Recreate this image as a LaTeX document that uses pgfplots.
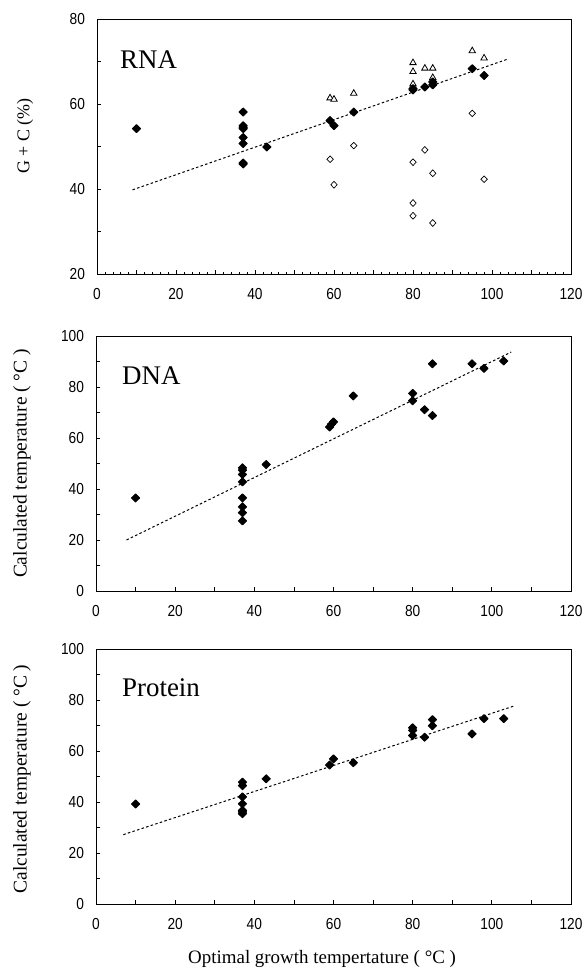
\documentclass[border=0pt]{standalone}
\usepackage{fontspec}
\setmainfont{Liberation Serif}
\newfontfamily\tickfont[FakeStretch=0.86]{Liberation Sans}
\usepackage{pgfplots}
\pgfplotsset{compat=1.18}

\pgfplotsset{
  panel/.style={
    scale only axis, width=475bp, height=255bp, anchor=south west,
    xmin=0, xmax=120,
    xtick={0,20,...,120}, minor xtick={10,30,...,110},
    axis line style={line width=0.9bp},
    tick style={black, line width=0.7bp},
    major tick length=4bp, minor tick length=4bp,
    tick align=inside, xtick pos=bottom, ytick pos=left,
    /pgf/number format/assume math mode=true,
    ticklabel style={font=\tickfont\fontsize{16}{16}\selectfont},
    xticklabel style={yshift=-11bp},
    yticklabel style={xshift=-8.5bp},
    label style={font=\fontsize{19.5}{21}\selectfont},
    ylabel style={at={(axis description cs:-0.152,0.5)}, anchor=center},
    clip=false,
  },
  ptfill/.style={only marks, mark=diamond*,
    mark options={draw=black, fill=black, xscale=1.35, line width=1bp, line join=round},
    mark size=4.0bp},
  ptopen/.style={only marks, mark=diamond*,
    mark options={draw=black, fill=white, xscale=1.3, line width=0.7bp},
    mark size=3.3bp},
  pttri/.style={only marks, mark=triangle*,
    mark options={draw=black, fill=white, line width=0.8bp},
    mark size=3.7bp},
  trend/.style={black, line width=1bp, dash pattern=on 2.5bp off 2.3bp, no marks},
}
\tikzset{tag/.style={anchor=base west, inner sep=0pt, font=\fontsize{27}{27}\selectfont}}

\begin{document}
\begin{tikzpicture}
\path[use as bounding box] (0,0) rectangle (582bp,973bp);

% RNA
\begin{axis}[panel, at={(97bp,699bp)}, width=474bp,
  ymin=20, ymax=80, ytick={20,40,...,80}, minor ytick={30,50,70},
  extra x ticks={2,4,...,118}, extra x tick labels={},
  extra x tick style={major tick length=1.5bp, tick style={line width=0.5bp}},
  ylabel={G + C (\%)},
  ylabel style={at={(axis description cs:-0.152,0.54)}, font=\fontsize{18}{20}\selectfont}]
\addplot[trend] coordinates {(9.0,39.8) (104.1,70.6)};
\addplot[ptopen] coordinates {
  (59,47.0) (60,41.0) (65,50.2) (80,46.3) (80,36.7) (80,33.7)
  (83,49.2) (85,43.7) (85,32.0) (95,57.8) (98,42.3)};
\addplot[pttri] coordinates {
  (59,61.4) (60,61.1) (65,62.5) (80,69.7) (80,67.6) (80,64.7)
  (83,68.4) (85,68.4) (85,66.2) (95,72.5) (98,70.8)};
\addplot[ptfill] coordinates {
  (10,54.2) (37,58.1) (37,54.9) (37,54.5) (37,54.2) (37,52.1) (37,50.7)
  (37,46.1) (37,45.9) (43,49.9) (59,56.1) (60,54.9) (65,58.1)
  (80,63.3) (80,63.6) (83,64.0) (85,64.5) (85,65.2) (95,68.3) (98,66.7)};
\node[tag] at (rel axis cs:0.0485,0.804) {RNA};
\end{axis}

% DNA
\begin{axis}[panel, at={(96bp,382bp)},
  ymin=0, ymax=100, ytick={0,20,...,100}, minor ytick={10,30,...,90},
  ylabel={Calculated temperature ( °C )},
  ylabel style={at={(axis description cs:-0.156,0.5)}}]
\addplot[trend] coordinates {(7.7,20.0) (104.9,93.7)};
\addplot[ptfill] coordinates {
  (10,36.5) (37,48.3) (37,47.4) (37,45.7) (37,42.8) (37,36.5) (37,33.0)
  (37,30.7) (37,27.5) (43,49.6) (59,64.3) (59.5,65.4) (60,66.3) (65,76.5)
  (80,77.5) (80,74.6) (83,71.1) (85,68.8) (85,89.1) (95,89.1) (98,87.3)
  (103,90.2)};
\node[tag] at (rel axis cs:0.0547,0.808) {DNA};
\end{axis}

% Protein
\begin{axis}[panel, at={(96bp,69bp)},
  ymin=0, ymax=100, ytick={0,20,...,100}, minor ytick={10,30,...,90},
  ylabel={Calculated temperature ( °C )},
  ylabel style={at={(axis description cs:-0.156,0.49)}},
  xlabel={Optimal growth tempertature ( °C )},
  xlabel style={at={(axis description cs:0.476,-0.235)}, anchor=base,
    font=\fontsize{19}{21}\selectfont}]
\addplot[trend] coordinates {(6.9,27.2) (105.9,77.8)};
\addplot[ptfill] coordinates {
  (10,39.2) (37,47.8) (37,46.4) (37,42.0) (37,39.3) (37,36.7) (37,36.1)
  (37,35.4) (43,49.1) (59,54.5) (60,56.9) (65,55.4) (80,69.1) (80,68.1)
  (80,66.1) (83,65.4) (85,72.3) (85,69.9) (95,66.7) (98,72.7) (103,72.7)};
\node[tag] at (rel axis cs:0.0547,0.812) {Protein};
\end{axis}
\end{tikzpicture}
\end{document}
